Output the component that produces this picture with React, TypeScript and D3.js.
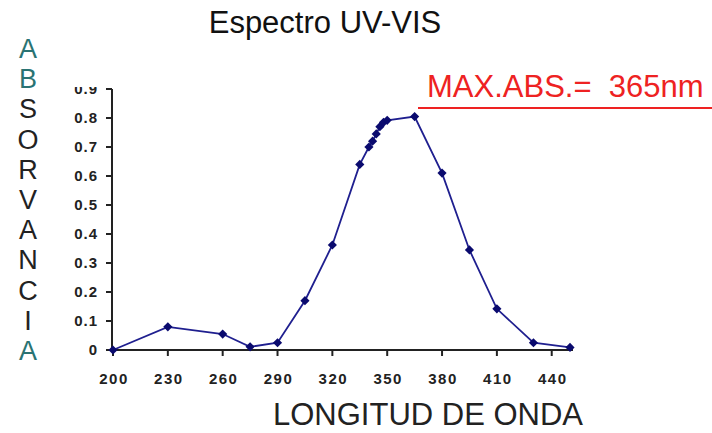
import React from 'react';
import * as d3 from 'd3';

// wavelength (nm) and absorbance readings
const wavelengths = [200, 230, 260, 275, 290, 305, 320, 335, 340, 342, 344, 346, 348, 350, 365, 380, 395, 410, 430, 450];
const absorbance = [0, 0.08, 0.055, 0.011, 0.025, 0.17, 0.362, 0.64, 0.70, 0.72, 0.745, 0.77, 0.785, 0.792, 0.805, 0.61, 0.345, 0.142, 0.025, 0.009];

const xTicks = [200, 230, 260, 290, 320, 350, 380, 410, 440];
const yTicks = [0, 0.1, 0.2, 0.3, 0.4, 0.5, 0.6, 0.7, 0.8, 0.9];
const yLetters = ['A', 'B', 'S', 'O', 'R', 'V', 'A', 'N', 'C', 'I', 'A'];
const tealLetters = [0, 1, 10];

const W = 712;
const H = 433;
const font = 'Arial, "Liberation Sans", sans-serif';

export default function App() {
  const x = d3.scaleLinear().domain([200, 450]).range([113, 570]);
  const y = d3.scaleLinear().domain([0, 0.9]).range([350, 89]);

  const pts = wavelengths.map((w, i) => [w, absorbance[i]] as [number, number]);
  const line = d3.line<[number, number]>().x(d => x(d[0])).y(d => y(d[1]));
  const diamond = d3.symbol(d3.symbolSquare, 42)();

  return (
    <>
      <style>{'body{margin:0}'}</style>
      <svg width={W} height={H} style={{ display: 'block', background: '#fff' }} fontFamily={font}>
        <defs>
          <clipPath id="ylab">
            <rect x={0} y={87} width={112} height={300} />
          </clipPath>
        </defs>

        <text x={325} y={33} textAnchor="middle" fontSize={31} fill="#111">Espectro UV-VIS</text>

        {yLetters.map((c, i) => (
          <text key={i} x={28} y={58 + i * 30.2} textAnchor="middle" fontSize={27}
            fill={tealLetters.includes(i) ? '#2a7373' : '#222'}>{c}</text>
        ))}

        {/* axes */}
        <line x1={112} x2={112} y1={y(0.9)} y2={y(0) + 1} stroke="#222" strokeWidth={2} />
        <line x1={111} x2={573} y1={y(0)} y2={y(0)} stroke="#222" strokeWidth={2} />
        {yTicks.map(t => (
          <line key={t} x1={106} x2={112} y1={y(t)} y2={y(t)} stroke="#222" strokeWidth={2} />
        ))}
        {xTicks.map(t => (
          <line key={t} x1={x(t)} x2={x(t)} y1={y(0)} y2={y(0) + 6} stroke="#222" strokeWidth={2} />
        ))}

        <g clipPath="url(#ylab)">
          {yTicks.map(t => (
            <text key={t} x={98} y={y(t) + 5} textAnchor="end" fontSize={15} fontWeight="bold" fill="#222" letterSpacing={1}>
              {t === 0 ? '0' : d3.format('.1f')(t)}
            </text>
          ))}
        </g>
        {xTicks.map(t => (
          <text key={t} x={x(t) + 1} y={384} textAnchor="middle" fontSize={15} fontWeight="bold" fill="#222" letterSpacing={1.5}>{t}</text>
        ))}

        <text x={428} y={425} textAnchor="middle" fontSize={31} fill="#222">LONGITUD DE ONDA</text>

        {/* series */}
        <path d={line(pts) ?? ''} fill="none" stroke="#1f1f8f" strokeWidth={1.8} />
        {pts.map((p, i) => (
          <path key={i} d={diamond ?? ''} transform={`translate(${x(p[0])},${y(p[1])}) rotate(45)`} fill="#0a0a6e" />
        ))}

        {/* max annotation */}
        <line x1={418} x2={712} y1={108} y2={108} stroke="#ee2222" strokeWidth={2} />
        <text x={427} y={97} fontSize={31} fill="#ee2222">{'MAX.ABS.=\u00A0 365nm'}</text>
      </svg>
    </>
  );
}
